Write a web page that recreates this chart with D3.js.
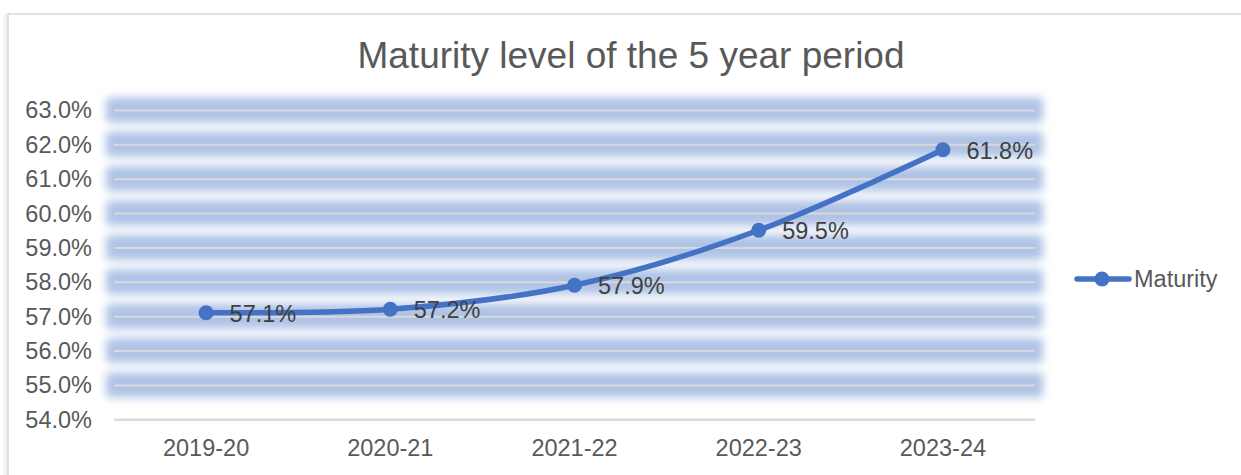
<!DOCTYPE html>
<html>
<head>
<meta charset="utf-8">
<script src="https://cdn.jsdelivr.net/npm/d3@7"></script>
<style>
  html, body { margin: 0; padding: 0; background: #fff; }
  svg { display: block; }
  text { font-family: "Liberation Sans", Arial, sans-serif; }
</style>
</head>
<body>
<svg id="chart" width="1241" height="475"></svg>
<script>
const categories = ["2019-20", "2020-21", "2021-22", "2022-23", "2023-24"];
const maturity = [57.1, 57.2, 57.9, 59.5, 61.84];
const valueLabels = ["57.1%", "57.2%", "57.9%", "59.5%", "61.8%"];
const yTicks = [54, 55, 56, 57, 58, 59, 60, 61, 62, 63];
const title = "Maturity level of the 5 year period";
const seriesName = "Maturity";

const svg = d3.select("#chart");
const margin = { left: 114, right: 1035, top: 109.9, bottom: 419.3 };

const defs = svg.append("defs");
defs.append("filter").attr("id", "glow")
  .attr("x", "-10%").attr("y", "-200%").attr("width", "120%").attr("height", "500%")
  .append("feGaussianBlur").attr("stdDeviation", 4);
defs.append("filter").attr("id", "shadow")
  .attr("x", "-50%").attr("y", "-5%").attr("width", "200%").attr("height", "110%")
  .append("feGaussianBlur").attr("stdDeviation", 2);

// chart area border
svg.append("rect").attr("x", 5).attr("y", 14).attr("width", 4).attr("height", 470)
  .attr("fill", "#c9d5ec").attr("filter", "url(#shadow)").attr("opacity", 0.6);
svg.append("rect").attr("x", 8).attr("y", 14).attr("width", 1240).attr("height", 480)
  .attr("fill", "#fff").attr("stroke", "#d9d9d9").attr("stroke-width", 1.5);

const x = d3.scaleBand().domain(categories).range([margin.left, margin.right]);
const y = d3.scaleLinear().domain([54, 63]).range([margin.bottom, margin.top]);

// glow bands behind gridlines
const glowG = svg.append("g").attr("filter", "url(#glow)");
glowG.selectAll("rect").data(yTicks.filter(d => d !== 54)).join("rect")
  .attr("x", margin.left - 8).attr("width", margin.right - margin.left + 16)
  .attr("y", d => y(d) - 12.5).attr("height", 25)
  .attr("rx", 4)
  .attr("fill", "#afc3e6");

// gridlines
const yAxisG = svg.append("g").attr("transform", `translate(${margin.left},0)`)
  .call(d3.axisLeft(y).tickValues(yTicks).tickSize(-(margin.right - margin.left)).tickFormat(d => d.toFixed(1) + "%"));
yAxisG.select(".domain").remove();
yAxisG.selectAll(".tick line").attr("stroke", "#d9d9d9").attr("stroke-width", 2);
yAxisG.selectAll(".tick text")
  .attr("x", -22).attr("dy", null).attr("y", 8)
  .attr("font-size", "23.5px").attr("fill", "#595959")
  .attr("font-family", "Liberation Sans, Arial, sans-serif");

// x axis
const xAxisG = svg.append("g").attr("transform", `translate(0,${margin.bottom})`)
  .call(d3.axisBottom(x).tickSize(0));
xAxisG.select(".domain").attr("stroke", "#d9d9d9").attr("stroke-width", 2);
xAxisG.selectAll(".tick text")
  .attr("y", 37).attr("dy", null)
  .attr("font-size", "23.5px").attr("fill", "#595959")
  .attr("font-family", "Liberation Sans, Arial, sans-serif");

// series
const pts = categories.map((c, i) => ({ c, v: maturity[i], label: valueLabels[i] }));
const cx = d => x(d.c) + x.bandwidth() / 2;
const line = d3.line().x(cx).y(d => y(d.v)).curve(d3.curveCatmullRom.alpha(0));
svg.append("path").datum(pts).attr("d", line)
  .attr("fill", "none").attr("stroke", "#4472c4").attr("stroke-width", 5.5)
  .attr("stroke-linecap", "round").attr("stroke-linejoin", "round");
svg.selectAll("circle.pt").data(pts).join("circle").attr("class", "pt")
  .attr("cx", cx).attr("cy", d => y(d.v)).attr("r", 7.5).attr("fill", "#4472c4");
svg.selectAll("text.lbl").data(pts).join("text").attr("class", "lbl")
  .attr("x", d => cx(d) + 23.5).attr("y", d => y(d.v) + 8.8)
  .attr("font-size", "23.5px").attr("fill", "#404040").text(d => d.label);

// title
svg.append("text").attr("x", 631).attr("y", 68.3).attr("text-anchor", "middle")
  .attr("font-size", "37px").attr("fill", "#595959").text(title);

// legend
const lg = svg.append("g");
lg.append("line").attr("x1", 1077).attr("x2", 1129).attr("y1", 279).attr("y2", 279)
  .attr("stroke", "#4472c4").attr("stroke-width", 5.5).attr("stroke-linecap", "round");
lg.append("circle").attr("cx", 1102).attr("cy", 279).attr("r", 7.5).attr("fill", "#4472c4");
lg.append("text").attr("x", 1134).attr("y", 287).attr("font-size", "23.5px")
  .attr("fill", "#595959").text(seriesName);
</script>
</body>
</html>
